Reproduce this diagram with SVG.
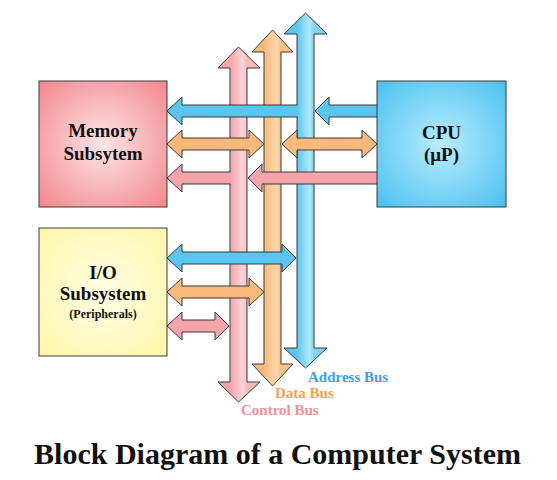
<svg xmlns="http://www.w3.org/2000/svg" width="557" height="480" viewBox="0 0 557 480">
<style>
.ol{stroke:#3a3a3a;stroke-width:1;stroke-linejoin:miter}
.nf{fill:none}
.t{font-family:"Liberation Serif","Times New Roman",serif;font-weight:bold;fill:#111;text-anchor:middle}
.pk{fill:#f5a5aa}
.or{fill:#f9b97c}
.bl{fill:#5ac6f0}
</style>
<defs>
<linearGradient id="gpk" gradientUnits="userSpaceOnUse" x1="230" y1="0" x2="247" y2="0"><stop offset="0" stop-color="#f5a5aa"/><stop offset="0.75" stop-color="#fdd4d8"/><stop offset="1" stop-color="#f8b8bc"/></linearGradient>
<linearGradient id="gor" gradientUnits="userSpaceOnUse" x1="264" y1="0" x2="281" y2="0"><stop offset="0" stop-color="#f9b97c"/><stop offset="0.75" stop-color="#fdd6ad"/><stop offset="1" stop-color="#fac08a"/></linearGradient>
<linearGradient id="gbl" gradientUnits="userSpaceOnUse" x1="297" y1="0" x2="314" y2="0"><stop offset="0" stop-color="#5ac6f0"/><stop offset="0.75" stop-color="#b3e9fc"/><stop offset="1" stop-color="#7fd4f5"/></linearGradient>
<radialGradient id="gmem" cx="0.5" cy="0.5" r="0.7"><stop offset="0" stop-color="#fde6e8"/><stop offset="1" stop-color="#f2868c"/></radialGradient>
<radialGradient id="gio" cx="0.5" cy="0.5" r="0.7"><stop offset="0" stop-color="#ffffe6"/><stop offset="1" stop-color="#fdf6a8"/></radialGradient>
<radialGradient id="gcpu" cx="0.5" cy="0.5" r="0.7"><stop offset="0" stop-color="#b8eeff"/><stop offset="1" stop-color="#4cc0ef"/></radialGradient>
</defs>

<g id="connectors">
  <!-- vertical buses -->
  <polygon id="control-bus" class="ol" fill="url(#gpk)" points="238.5,47 260,68 247,68 247,382 260,382 238.5,402 218,382 230,382 230,68 218,68"/>
  <polygon id="data-bus" class="ol" fill="url(#gor)" points="272.5,30 293,52 281,52 281,364 293,364 272.5,386 252,364 264,364 264,52 252,52"/>
  <polygon id="address-bus" class="ol" fill="url(#gbl)" points="305.5,13 327,34 314,34 314,348 327,348 305.5,368 284,348 297,348 297,34 284,34"/>

  <!-- memory <-> buses -->
  <path class="bl" d="M298,105 H182 V97 L167,111 L182,125 V117 H298 Z"/>
  <path class="ol nf" d="M297.5,105 H182 V97 L167,111 L182,125 V117 H297.5"/>
  <path class="bl ol" d="M377,105 H329 V97 L315,111 L329,125 V117 H377"/>
  <polygon class="or ol" points="167,144 182,130 182,138 249,138 249,130 264,144 249,158 249,150 182,150 182,158"/>
  <polygon class="or ol" points="282,144 297,130 297,138 362,138 362,130 377,144 362,158 362,150 297,150 297,158"/>
  <path class="pk" d="M231,172 H182 V164 L167,178 L182,192 V184 H231 Z"/>
  <path class="ol nf" d="M230.5,172 H182 V164 L167,178 L182,192 V184 H230.5"/>
  <path class="pk ol" d="M377,172 H262 V164 L248,178 L262,192 V184 H377"/>

  <!-- I/O <-> buses -->
  <polygon class="bl ol" points="167,258 182,244 182,252 282,252 282,244 296,258 282,272 282,264 182,264 182,272"/>
  <polygon class="or ol" points="167,292 182,278 182,286 249,286 249,278 264,292 249,306 249,298 182,298 182,306"/>
  <polygon class="pk ol" points="167,326 182,312 182,320 215,320 215,312 229,326 215,340 215,332 182,332 182,340"/>
</g>

<g id="memory">
  <rect x="39" y="81" width="128" height="126" fill="url(#gmem)" class="ol"/>
  <text class="t" x="103" y="137" font-size="19">Memory</text>
  <text class="t" x="103" y="160" font-size="19">Subsytem</text>
</g>

<g id="io">
  <rect x="39" y="228" width="128" height="128" fill="url(#gio)" class="ol"/>
  <text class="t" x="103" y="279" font-size="19">I/O</text>
  <text class="t" x="103" y="300" font-size="19">Subsystem</text>
  <text class="t" x="103" y="318" font-size="12">(Peripherals)</text>
</g>

<g id="cpu">
  <rect x="377" y="81" width="129" height="126" fill="url(#gcpu)" class="ol"/>
  <text class="t" x="441.5" y="139" font-size="19">CPU</text>
  <text class="t" x="441.5" y="161" font-size="19">(μP)</text>
</g>

<g id="bus-labels">
  <text class="t" x="308" y="382" font-size="15" style="text-anchor:start;fill:#459ee2">Address Bus</text>
  <text class="t" x="275" y="398" font-size="15" style="text-anchor:start;fill:#f2a254">Data Bus</text>
  <text class="t" x="241" y="415" font-size="15" style="text-anchor:start;fill:#f29194">Control Bus</text>
</g>

<text id="title" class="t" x="277.5" y="464" font-size="30">Block Diagram of a Computer System</text>
</svg>
